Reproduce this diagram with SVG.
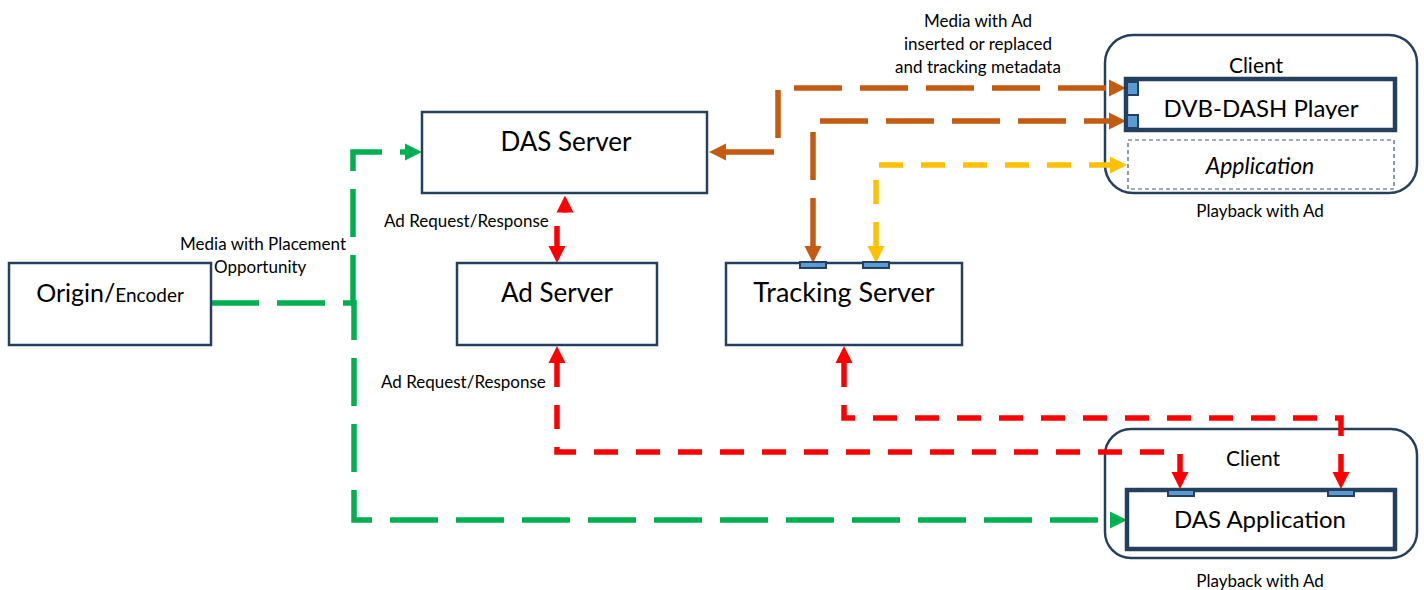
<svg xmlns="http://www.w3.org/2000/svg" width="1424" height="590" viewBox="0 0 1424 590">
  <style>
    .box { fill: #ffffff; stroke: #25405f; stroke-width: 2.5; }
    .inner { fill: #ffffff; stroke: #25405f; stroke-width: 4.5; }
    .client { fill: #ffffff; stroke: #25405f; stroke-width: 2.5; }
    .app { fill: #ffffff; stroke: #3f5878; stroke-width: 1.2; stroke-dasharray: 4 3; }
    .port { fill: #5b9bd5; stroke: #25405f; stroke-width: 2; }
    .t { font-family: Lato, "Liberation Sans", sans-serif; fill: #000000; }
    .big { font-size: 26px; text-anchor: middle; }
    .mid { font-size: 21px; text-anchor: middle; }
    .small { font-size: 17px; }
    .green { fill: none; stroke: #00b050; stroke-width: 5.5; stroke-dasharray: 48 18; }
    .orange { fill: none; stroke: #c55a11; stroke-width: 5.5; stroke-dasharray: 48 18; }
    .yellow { fill: none; stroke: #ffc000; stroke-width: 5.5; stroke-dasharray: 24 18; }
    .red { fill: none; stroke: #ff0000; stroke-width: 5.5; stroke-dasharray: 24 18; }
    .solid { stroke-dasharray: none; }
  </style>
  <defs>
    <marker id="ah-green" markerUnits="userSpaceOnUse" viewBox="0 -9 17 18" refX="0" refY="0" markerWidth="17" markerHeight="18" orient="auto-start-reverse">
      <path d="M0,-8.5 L17,0 L0,8.5 Z" fill="#00b050"/>
    </marker>
    <marker id="ah-orange" markerUnits="userSpaceOnUse" viewBox="0 -9 17 18" refX="0" refY="0" markerWidth="17" markerHeight="18" orient="auto-start-reverse">
      <path d="M0,-8.5 L17,0 L0,8.5 Z" fill="#c55a11"/>
    </marker>
    <marker id="ah-yellow" markerUnits="userSpaceOnUse" viewBox="0 -9 17 18" refX="0" refY="0" markerWidth="17" markerHeight="18" orient="auto-start-reverse">
      <path d="M0,-8.5 L17,0 L0,8.5 Z" fill="#ffc000"/>
    </marker>
    <marker id="ah-red" markerUnits="userSpaceOnUse" viewBox="0 -9 17 18" refX="0" refY="0" markerWidth="17" markerHeight="18" orient="auto-start-reverse">
      <path d="M0,-8.5 L17,0 L0,8.5 Z" fill="#ff0000"/>
    </marker>
    <clipPath id="player-clip">
      <rect x="1128" y="80" width="265" height="39"/>
    </clipPath>
  </defs>

  <!-- Client boxes (drawn first so connectors pass over them) -->
  <g id="client-top">
    <rect class="client" x="1105" y="35" width="312" height="158" rx="28"/>
    <text class="t mid" x="1256" y="73">Client</text>
    <text class="t small" x="1260" y="217" text-anchor="middle">Playback with Ad</text>
  </g>
  <g id="client-bottom">
    <rect class="client" x="1105" y="429" width="312" height="129" rx="26"/>
    <text class="t mid" x="1253" y="466">Client</text>
    <text class="t small" x="1260" y="587" text-anchor="middle">Playback with Ad</text>
  </g>

  <!-- Connectors -->
  <g id="connectors">
    <!-- media with placement opportunity -->
    <path class="green" d="M211,303 H354 V520 H1110" marker-end="url(#ah-green)"/>
    <path class="green" d="M353,303 V152 H405" marker-end="url(#ah-green)"/>
    <!-- media with ad inserted or replaced and tracking metadata -->
    <path class="orange" d="M726,152 H778 V88 H1109" marker-start="url(#ah-orange)" marker-end="url(#ah-orange)"/>
    <path class="orange" d="M813,246 V121 H1109" marker-start="url(#ah-orange)" marker-end="url(#ah-orange)"/>
    <!-- application to tracking server -->
    <path class="yellow" d="M876,246 V165 H1110" marker-start="url(#ah-yellow)" marker-end="url(#ah-yellow)"/>
    <!-- DAS server <-> ad server -->
    <path class="red solid" d="M565,213 V212.5" marker-end="url(#ah-red)"/>
    <path class="red solid" d="M557,226 V246" marker-end="url(#ah-red)"/>
    <!-- DAS application <-> ad server -->
    <path class="red" d="M557,363 V452 H1180 V472" marker-start="url(#ah-red)" marker-end="url(#ah-red)"/>
    <!-- DAS application -> tracking server -->
    <path class="red" d="M844,363 V418 H1341 V472" marker-start="url(#ah-red)" marker-end="url(#ah-red)"/>
  </g>

  <!-- Nodes -->
  <g id="origin-encoder">
    <rect class="box" x="9" y="263" width="202" height="82"/>
    <text class="t" x="110" y="302" text-anchor="middle"><tspan font-size="25">Origin/</tspan><tspan font-size="19">Encoder</tspan></text>
  </g>
  <g id="das-server">
    <rect class="box" x="422" y="112" width="285" height="81"/>
    <text class="t big" x="566" y="151">DAS Server</text>
  </g>
  <g id="ad-server">
    <rect class="box" x="457" y="263" width="200" height="82"/>
    <text class="t big" x="557" y="302">Ad Server</text>
  </g>
  <g id="tracking-server">
    <rect class="box" x="726" y="263" width="236" height="82"/>
    <rect class="port" x="800" y="262" width="26" height="6"/>
    <rect class="port" x="863" y="262" width="26" height="6"/>
    <text class="t big" x="844" y="302" style="font-size:27px">Tracking Server</text>
  </g>
  <g id="dvb-dash-player">
    <rect class="inner" x="1126" y="79" width="269" height="51"/>
    <rect class="port" x="1127" y="82" width="11" height="13"/>
    <rect class="port" x="1127" y="115" width="11" height="13"/>
    <text class="t big" x="1261" y="117" style="font-size:24px" clip-path="url(#player-clip)">DVB-DASH Player</text>
  </g>
  <g id="application">
    <rect class="app" x="1128" y="140" width="266" height="49"/>
    <text class="t mid" x="1260" y="174" style="font-size:23px" font-style="italic">Application</text>
  </g>
  <g id="das-application">
    <rect class="inner" x="1127" y="490" width="268" height="59"/>
    <rect class="port" x="1168" y="490" width="26" height="6"/>
    <rect class="port" x="1328" y="490" width="26" height="6"/>
    <text class="t big" x="1260" y="528" style="font-size:24px">DAS Application</text>
  </g>

  <!-- Connector labels -->
  <g id="labels">
    <text class="t small" x="978" y="27" text-anchor="middle">Media with Ad</text>
    <text class="t small" x="978" y="50" text-anchor="middle">inserted or replaced</text>
    <text class="t small" x="978" y="73" text-anchor="middle">and tracking metadata</text>
    <text class="t small" x="346" y="250" text-anchor="end">Media with Placement</text>
    <text class="t small" x="214" y="273">Opportunity</text>
    <text class="t small" x="384" y="227">Ad Request/Response</text>
    <text class="t small" x="381" y="388">Ad Request/Response</text>
  </g>
</svg>
